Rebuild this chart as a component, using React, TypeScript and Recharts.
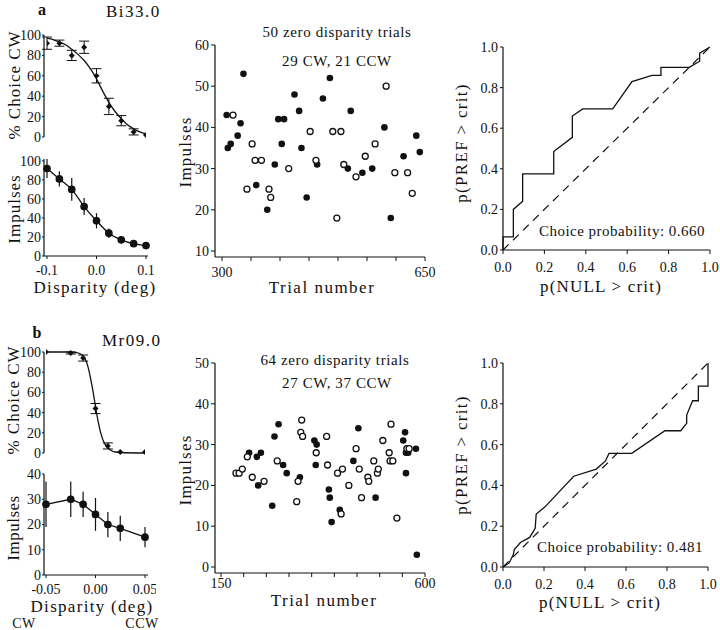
import React from 'react';
import { ComposedChart, Line, Scatter, XAxis, YAxis, ErrorBar } from 'recharts';

const serif = '"Liberation Serif", "Times New Roman", serif';
const ink = '#111';

// ---- a: Bi33.0 ----
const dispA = [-0.1, -0.075, -0.05, -0.025, 0, 0.025, 0.05, 0.075, 0.1];
const choiceA = [92, 92, 80, 88, 60, 30, 16, 5, 2];
const choiceErrA = [6, 3, 5, 6, 7, 8, 5, 3, 0];
const fitDispA = [-0.1, -0.0875, -0.075, -0.0625, -0.05, -0.0375, -0.025, -0.0125, 0, 0.0125, 0.025, 0.0375, 0.05, 0.0625, 0.075, 0.0875, 0.1];
const fitChoiceA = [97, 95.5, 93, 90.5, 86, 81, 75, 67, 57, 45, 34, 25, 18, 12, 8, 5, 3];
const impA = [92, 81, 70, 52, 37, 24, 17, 13, 11];
const impErrA = [10, 8, 12, 9, 8, 5, 4, 3, 3];

const cwTrialsA = [308, 310, 315, 327, 332, 337, 359, 378, 391, 397, 403, 407, 425, 433, 437, 446, 464, 474, 486, 517, 522, 542, 559, 580, 591, 613, 635, 641];
const cwImpA = [43, 35, 36, 38, 41, 53, 26, 20, 31, 42, 36, 42, 48, 44, 35, 23, 31, 47, 52, 30, 44, 29, 30, 40, 18, 33, 38, 34];
const ccwTrialsA = [319, 343, 352, 357, 368, 381, 384, 415, 452, 462, 491, 498, 505, 510, 531, 547, 564, 583, 598, 620, 628];
const ccwImpA = [43, 25, 36, 32, 32, 25, 23, 30, 39, 32, 39, 18, 39, 31, 28, 33, 36, 50, 29, 29, 24];
const trialTicksA = [300, 350, 400, 450, 500, 550, 600, 650];

const rocNullA = [0, 0, 0.05, 0.05, 0.095, 0.095, 0.245, 0.245, 0.335, 0.335, 0.385, 0.53, 0.623, 0.72, 0.763, 0.763, 0.9, 0.95, 0.95, 1];
const rocPrefA = [0, 0.065, 0.065, 0.2, 0.24, 0.375, 0.375, 0.485, 0.555, 0.66, 0.695, 0.695, 0.83, 0.86, 0.86, 0.9, 0.9, 0.93, 0.97, 1];

// ---- b: Mr09.0 ----
const dispB = [-0.05, -0.025, -0.0125, 0, 0.0125, 0.025, 0.05];
const choiceB = [100, 99, 94, 44, 7, 1, 1];
const choiceErrB = [0, 1, 3, 5, 3, 0, 0];
const fitDispB = [-0.05, -0.025, -0.02, -0.015, -0.0125, -0.01, -0.0075, -0.005, -0.0025, 0, 0.0025, 0.005, 0.0075, 0.01, 0.0125, 0.015, 0.02, 0.025, 0.05];
const fitChoiceB = [100, 100, 99.5, 98, 96, 92, 85, 74, 61, 46, 32, 21, 13, 8, 5, 3, 1, 0.5, 0];
const impB = [28, 30, 28, 24, 20, 18.5, 15];
const impErrB = [9, 7, 5, 6.5, 5, 5, 4];

const cwTrialsB = [212, 229, 238, 232, 263, 268, 277, 287, 295, 324, 356, 361, 359, 388, 390, 394, 412, 442, 453, 491, 552, 556, 558, 563, 558, 580, 582];
const cwImpB = [28, 27, 28, 20, 15, 32, 35, 25, 23, 22, 31, 30, 25, 19, 17, 11, 14, 26, 34, 17, 31, 33, 28, 28, 23, 29, 3];
const ccwTrialsB = [183, 190, 197, 208, 219, 245, 274, 317, 320, 326, 328, 330, 360, 383, 385, 407, 415, 418, 432, 448, 455, 460, 474, 476, 487, 495, 497, 507, 521, 523, 525, 529, 538, 560, 565];
const ccwImpB = [23, 23, 24, 27, 22, 21, 26, 16, 21, 33, 36, 32, 28, 32, 25, 23, 13, 24, 20, 29, 24, 17, 22, 21, 26, 23, 24, 31, 28, 26, 35, 26, 12, 29, 29];
const trialTicksB = [150, 200, 250, 300, 350, 400, 450, 500, 550, 600];

const rocNullB = [0, 0.03, 0.05, 0.055, 0.085, 0.13, 0.157, 0.162, 0.205, 0.345, 0.455, 0.5, 0.517, 0.628, 0.79, 0.867, 0.896, 0.896, 0.925, 0.953, 0.953, 1, 1];
const rocPrefB = [0, 0.02, 0.06, 0.085, 0.12, 0.145, 0.19, 0.26, 0.295, 0.445, 0.48, 0.52, 0.557, 0.557, 0.668, 0.668, 0.704, 0.745, 0.815, 0.815, 0.887, 0.887, 1];

const diagX = [0, 1];
const probTicks = [0, 0.2, 0.4, 0.6, 0.8, 1];

const pts = (xs: number[], ys: number[], es?: number[]) =>
  xs.map((x, i) => ({ x, y: ys[i], e: es ? es[i] : 0 }));

type Frame = { x0: number; y0: number; x1: number; y1: number; yw: number; xh: number; top: number; right: number; bottom: number };

const Panel = ({ f, children }: { f: Frame; children: React.ReactNode }) => {
  const width = f.x1 - f.x0 + f.yw + f.right;
  const height = f.y1 - f.y0 + f.top + f.xh + f.bottom;
  return (
    <div style={{ position: 'absolute', left: f.x0 - f.yw, top: f.y0 - f.top }}>
      <ComposedChart width={width} height={height} margin={{ top: f.top, right: f.right, bottom: f.bottom, left: 0 }} style={{ fontFamily: serif }}>
        {children}
      </ComposedChart>
    </div>
  );
};

const tickStyle = { fontSize: 14, fill: ink, fontFamily: serif };
const axisLine = { stroke: ink, strokeWidth: 1.2 };

const Diamond = (p: any) => (
  <path d={`M${p.cx},${p.cy - 3}L${p.cx + 3},${p.cy}L${p.cx},${p.cy + 3}L${p.cx - 3},${p.cy}Z`} fill={ink} />
);
const Filled = (p: any) => <circle cx={p.cx} cy={p.cy} r={3.3} fill={ink} />;
const Open = (p: any) => <circle cx={p.cx} cy={p.cy} r={3} fill="#fff" stroke={ink} strokeWidth={1.3} />;

const fmt1 = (v: number) => v.toFixed(1);
const fmt2 = (v: number) => v.toFixed(2);

const ChoicePanel = ({ f, span, pad, data, fit }: any) => (
  <Panel f={f}>
    <XAxis type="number" dataKey="x" domain={span} padding={pad} hide height={0} allowDataOverflow />
    <YAxis type="number" dataKey="y" domain={[0, 100]} ticks={[0, 20, 40, 60, 80, 100]} width={f.yw}
      axisLine={axisLine} tickLine={{ stroke: ink }} tickSize={2} tickMargin={1} tick={tickStyle} interval={0} />
    <Line data={fit} dataKey="y" type="monotone" dot={false} stroke={ink} strokeWidth={1.3} isAnimationActive={false} />
    <Scatter data={data} dataKey="y" shape={Diamond} isAnimationActive={false}>
      <ErrorBar dataKey="e" direction="y" width={5} stroke={ink} strokeWidth={1} />
    </Scatter>
  </Panel>
);

const ImpulsePanel = ({ f, span, pad, yMax, yTicks, xTicks, xFmt, data, curve, tm }: any) => (
  <Panel f={f}>
    <XAxis type="number" dataKey="x" domain={span} padding={pad} ticks={xTicks} tickFormatter={xFmt} height={f.xh}
      axisLine={axisLine} tickLine={{ stroke: ink }} tickSize={3} tickMargin={tm} tick={tickStyle} interval={0} />
    <YAxis type="number" dataKey="y" domain={[0, yMax]} ticks={yTicks} width={f.yw}
      axisLine={axisLine} tickLine={{ stroke: ink }} tickSize={2} tickMargin={1} tick={tickStyle} interval={0} />
    <Line data={data} dataKey="y" type={curve} stroke={ink} strokeWidth={1.3} dot={{ r: 3.2, fill: ink, stroke: ink }} isAnimationActive={false}>
      <ErrorBar dataKey="e" direction="y" width={0} stroke={ink} strokeWidth={1.2} />
    </Line>
  </Panel>
);

const TrialPanel = ({ f, span, padL, yDom, yTicks, xTicks, cw, ccw, tm }: any) => (
  <Panel f={f}>
    <XAxis type="number" dataKey="x" domain={span} padding={{ left: padL, right: 0 }} ticks={xTicks}
      tickFormatter={(v: number) => (v === span[0] || v === span[1] ? String(v) : '')} height={f.xh}
      axisLine={axisLine} tickLine={{ stroke: ink }} tickSize={4} tickMargin={tm} tick={tickStyle} interval={0} />
    <YAxis type="number" dataKey="y" domain={yDom} padding={{ top: 0, bottom: 6 }} ticks={yTicks} width={f.yw}
      axisLine={axisLine} tickLine={{ stroke: ink }} tickSize={4} tickMargin={2} tick={tickStyle} interval={0} />
    <Scatter data={cw} dataKey="y" shape={Filled} isAnimationActive={false} />
    <Scatter data={ccw} dataKey="y" shape={Open} isAnimationActive={false} />
  </Panel>
);

const RocPanel = ({ f, roc }: any) => (
  <Panel f={f}>
    <XAxis type="number" dataKey="x" domain={[0, 1]} ticks={probTicks} tickFormatter={fmt1} height={f.xh}
      axisLine={axisLine} tickLine={{ stroke: ink }} tickSize={4} tickMargin={8} tick={tickStyle} interval={0} />
    <XAxis xAxisId="top" orientation="top" type="number" domain={[0, 1]} tick={false} tickLine={false} height={0} axisLine={axisLine} />
    <YAxis type="number" dataKey="y" domain={[0, 1]} ticks={probTicks} tickFormatter={fmt1} width={f.yw}
      axisLine={axisLine} tickLine={{ stroke: ink }} tickSize={3} tickMargin={2} tick={tickStyle} interval={0} />
    <YAxis yAxisId="right" orientation="right" type="number" domain={[0, 1]} tick={false} tickLine={false} width={0} axisLine={axisLine} />
    <Line data={pts(diagX, diagX)} dataKey="y" type="linear" dot={false} stroke={ink} strokeWidth={1.2} strokeDasharray="8 6" isAnimationActive={false} />
    <Line data={roc} dataKey="y" type="linear" dot={false} stroke={ink} strokeWidth={1.3} isAnimationActive={false} />
  </Panel>
);

const T = ({ x, y, size = 17, ls = 1.2, rot = false, anchor = 'middle', bold = false, children }: any) => (
  <text x={rot ? 0 : x} y={rot ? 0 : y} transform={rot ? `translate(${x},${y}) rotate(-90)` : undefined}
    textAnchor={anchor} dominantBaseline="central" fontSize={size} fontFamily={serif}
    fontWeight={bold ? 'bold' : 'normal'} letterSpacing={ls} fill={ink}>
    {children}
  </text>
);

export default function App() {
  const fA1: Frame = { x0: 44, y0: 35, x1: 148, y1: 137, yw: 44, xh: 0, top: 10, right: 6, bottom: 8 };
  const fA2: Frame = { x0: 44, y0: 159, x1: 148, y1: 256, yw: 44, xh: 26, top: 10, right: 8, bottom: 0 };
  const fB1: Frame = { x0: 44, y0: 352, x1: 148, y1: 453, yw: 44, xh: 0, top: 10, right: 6, bottom: 8 };
  const fB2: Frame = { x0: 44, y0: 474, x1: 148, y1: 575, yw: 44, xh: 24, top: 10, right: 8, bottom: 0 };
  const fSA: Frame = { x0: 215, y0: 45, x1: 425, y1: 257, yw: 50, xh: 26, top: 10, right: 14, bottom: 0 };
  const fSB: Frame = { x0: 215, y0: 363, x1: 425, y1: 573, yw: 50, xh: 26, top: 10, right: 14, bottom: 0 };
  const fRA: Frame = { x0: 503, y0: 47, x1: 710, y1: 250, yw: 50, xh: 28, top: 10, right: 9, bottom: 0 };
  const fRB: Frame = { x0: 503, y0: 363, x1: 708, y1: 567, yw: 50, xh: 28, top: 10, right: 11, bottom: 0 };

  return (
    <div style={{ position: 'absolute', left: 0, top: 0, width: 720, height: 630, background: '#fff', overflow: 'hidden' }}>
      <ChoicePanel f={fA1} span={[-0.1, 0.1]} pad={{ left: 3, right: 2 }}
        data={pts(dispA, choiceA, choiceErrA)} fit={pts(fitDispA, fitChoiceA)} />
      <ImpulsePanel f={fA2} span={[-0.1, 0.1]} pad={{ left: 3, right: 2 }} yMax={100} yTicks={[0, 20, 40, 60, 80, 100]}
        xTicks={[-0.1, 0, 0.1]} xFmt={fmt1} data={pts(dispA, impA, impErrA)} curve="monotone" tm={6} />
      <TrialPanel f={fSA} span={[300, 650]} padL={7} yDom={[10, 60]} yTicks={[10, 20, 30, 40, 50, 60]} xTicks={trialTicksA}
        cw={pts(cwTrialsA, cwImpA)} ccw={pts(ccwTrialsA, ccwImpA)} tm={6} />
      <RocPanel f={fRA} roc={pts(rocNullA, rocPrefA)} />

      <ChoicePanel f={fB1} span={[-0.05, 0.05]} pad={{ left: 2, right: 3 }}
        data={pts(dispB, choiceB, choiceErrB)} fit={pts(fitDispB, fitChoiceB)} />
      <ImpulsePanel f={fB2} span={[-0.05, 0.05]} pad={{ left: 2, right: 3 }} yMax={40} yTicks={[0, 10, 20, 30, 40]}
        xTicks={[-0.05, 0, 0.05]} xFmt={fmt2} data={pts(dispB, impB, impErrB)} curve="linear" tm={6} />
      <TrialPanel f={fSB} span={[150, 600]} padL={6} yDom={[0, 50]} yTicks={[0, 10, 20, 30, 40, 50]} xTicks={trialTicksB}
        cw={pts(cwTrialsB, cwImpB)} ccw={pts(ccwTrialsB, ccwImpB)} tm={1} />
      <RocPanel f={fRB} roc={pts(rocNullB, rocPrefB)} />

      <svg width={720} height={630} style={{ position: 'absolute', left: 0, top: 0, pointerEvents: 'none' }}>
        <T x={42} y={9} size={16} ls={0} bold>a</T>
        <T x={106} y={11} size={17} ls={1.5} anchor="start">Bi33.0</T>
        <T x={14} y={85} rot ls={1}>% Choice CW</T>
        <T x={14} y={209} rot ls={1}>Impulses</T>
        <T x={95} y={287} ls={1.3}>Disparity (deg)</T>
        <T x={337} y={32} size={15} ls={0.6}>50 zero disparity trials</T>
        <T x={337} y={61} size={15} ls={0.6}>29 CW, 21 CCW</T>
        <T x={185} y={152} rot ls={1.2}>Impulses</T>
        <T x={322} y={287} ls={1.5}>Trial number</T>
        <T x={461} y={143} rot ls={1.3}>p(PREF &gt; crit)</T>
        <T x={601} y={286} ls={1.2}>p(NULL &gt; crit)</T>
        <T x={622} y={231} size={15} ls={0.5}>Choice probability: 0.660</T>

        <T x={37} y={332} size={16} ls={0} bold>b</T>
        <T x={102} y={340} size={17} ls={1.5} anchor="start">Mr09.0</T>
        <T x={13} y={400} rot ls={1}>% Choice CW</T>
        <T x={13} y={528} rot ls={0.5}>Impulses</T>
        <T x={92} y={606} ls={1.3}>Disparity (deg)</T>
        <T x={24} y={623} size={14} ls={0.5}>CW</T>
        <T x={142} y={623} size={14} ls={0.5}>CCW</T>
        <T x={335} y={360} size={15} ls={0.6}>64 zero disparity trials</T>
        <T x={337} y={383} size={15} ls={0.6}>27 CW, 37 CCW</T>
        <T x={185} y={470} rot ls={1.2}>Impulses</T>
        <T x={324} y={600} ls={1.5}>Trial number</T>
        <T x={461} y={455} rot ls={1.3}>p(PREF &gt; crit)</T>
        <T x={600} y={602} ls={1.2}>p(NULL &gt; crit)</T>
        <T x={620} y={547} size={15} ls={0.5}>Choice probability: 0.481</T>
      </svg>
    </div>
  );
}
